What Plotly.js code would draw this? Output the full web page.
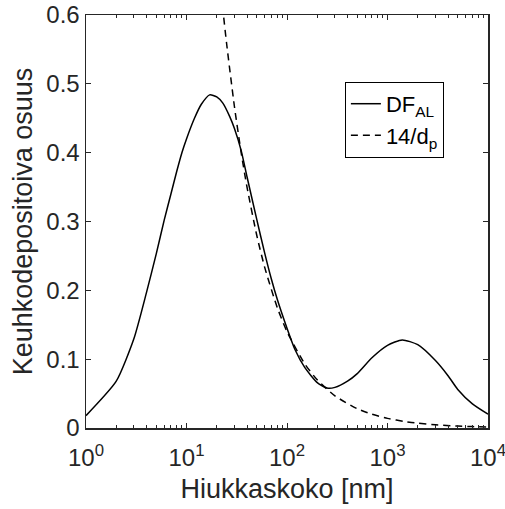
<!DOCTYPE html>
<html>
<head>
<meta charset="utf-8">
<script src="https://cdn.plot.ly/plotly-3.0.1.min.js"></script>
<style>
  html, body { margin: 0; padding: 0; background: #fff; }
  #chart { width: 505px; height: 509px; }
</style>
</head>
<body>
<div id="chart"></div>
<script>
// Alveolar deposition fraction DF_AL versus particle diameter (nm)
const dpAL = [1, 2, 3, 4, 5, 6, 7, 8, 9, 10, 12, 14, 17, 20, 23, 27, 30, 35, 40, 50,
              60, 70, 80, 100, 120, 150, 200, 250, 300, 400, 500, 700, 1000, 1400,
              2000, 3000, 4000, 5000, 7000, 10000];
const dfAL = [0.018, 0.068, 0.130, 0.197, 0.253, 0.302, 0.340, 0.373, 0.400, 0.420,
              0.450, 0.470, 0.484, 0.481, 0.472, 0.452, 0.435, 0.403, 0.365, 0.303,
              0.254, 0.216, 0.187, 0.145, 0.114, 0.088, 0.066, 0.058, 0.059, 0.068,
              0.079, 0.102, 0.120, 0.128, 0.121, 0.098, 0.076, 0.056, 0.035, 0.020];

// Reference curve 14/d_p
const dpRef = [20, 23.3, 25, 30, 35, 40, 50, 60, 80, 100, 150, 200, 300, 500, 700,
               1000, 1500, 2000, 3000, 5000, 7000, 10000];
const yRef  = [0.7, 0.6009, 0.56, 0.4667, 0.4, 0.35, 0.28, 0.2333, 0.175, 0.14, 0.0933,
               0.07, 0.0467, 0.028, 0.02, 0.014, 0.00933, 0.007, 0.00467, 0.0028, 0.002, 0.0014];

const xTickVals = [1, 10, 100, 1000, 10000];
const xTickText = ['10<sup>0</sup>', '10<sup>1</sup>', '10<sup>2</sup>', '10<sup>3</sup>', '10<sup>4</sup>'];
const yTickVals = [0, 0.1, 0.2, 0.3, 0.4, 0.5, 0.6];
const yTickText = ['0', '0.1', '0.2', '0.3', '0.4', '0.5', '0.6'];

// minor ticks at 2..9 of every decade
const minorVals = [];
for (const dec of [1, 10, 100, 1000]) {
  for (let k = 2; k <= 9; k++) minorVals.push(k * dec);
}

const axisColor = '#262626';
const font = 'Liberation Sans, Arial, sans-serif';

const traces = [
  {
    x: dpAL, y: dfAL, type: 'scatter', mode: 'lines',
    name: 'DF<sub>AL</sub>',
    line: { color: '#000', width: 1.5, shape: 'spline', smoothing: 0.6 }
  },
  {
    x: dpRef, y: yRef, type: 'scatter', mode: 'lines',
    name: '14/d<sub>p</sub>',
    line: { color: '#000', width: 1.5, dash: '7px,5px', shape: 'spline', smoothing: 0.6 }
  }
];

const layout = {
  width: 505, height: 509,
  margin: { l: 86, r: 17, t: 15, b: 81 },
  paper_bgcolor: '#fff', plot_bgcolor: '#fff',
  font: { family: font, color: axisColor, size: 24 },
  showlegend: true,
  legend: {
    x: 0.644, y: 0.838, xanchor: 'left', yanchor: 'top',
    bgcolor: '#fff', bordercolor: '#000', borderwidth: 1,
    font: { family: font, size: 22, color: '#000' },
    tracegroupgap: 0
  },
  xaxis: {
    type: 'log', range: [0, 4],
    tickmode: 'array', tickvals: xTickVals, ticktext: xTickText,
    ticks: 'inside', ticklen: 5, tickwidth: 1, tickcolor: axisColor,
    minor: { tickmode: 'array', tickvals: minorVals, ticks: 'inside', ticklen: 3, tickcolor: axisColor, tickwidth: 1 },
    showline: true, linecolor: axisColor, linewidth: 1.5, mirror: 'ticks',
    showgrid: false, zeroline: false,
    ticklabelstandoff: 8,
    ticklabeloverflow: 'allow',
    tickfont: { family: font, size: 24, color: axisColor },
    title: { text: 'Hiukkaskoko [nm]', font: { family: font, size: 27, color: axisColor }, standoff: 9 }
  },
  yaxis: {
    range: [0, 0.6],
    tickmode: 'array', tickvals: yTickVals, ticktext: yTickText,
    ticks: 'inside', ticklen: 5, tickwidth: 1, tickcolor: axisColor,
    showline: true, linecolor: axisColor, linewidth: 1.5, mirror: 'ticks',
    showgrid: false, zeroline: false,
    ticklabeloverflow: 'allow',
    tickfont: { family: font, size: 24, color: axisColor },
    title: { text: 'Keuhkodepositoiva osuus', font: { family: font, size: 27, color: axisColor }, standoff: 6 }
  }
};

Plotly.newPlot('chart', traces, layout, { displayModeBar: false, staticPlot: true });
</script>
</body>
</html>
